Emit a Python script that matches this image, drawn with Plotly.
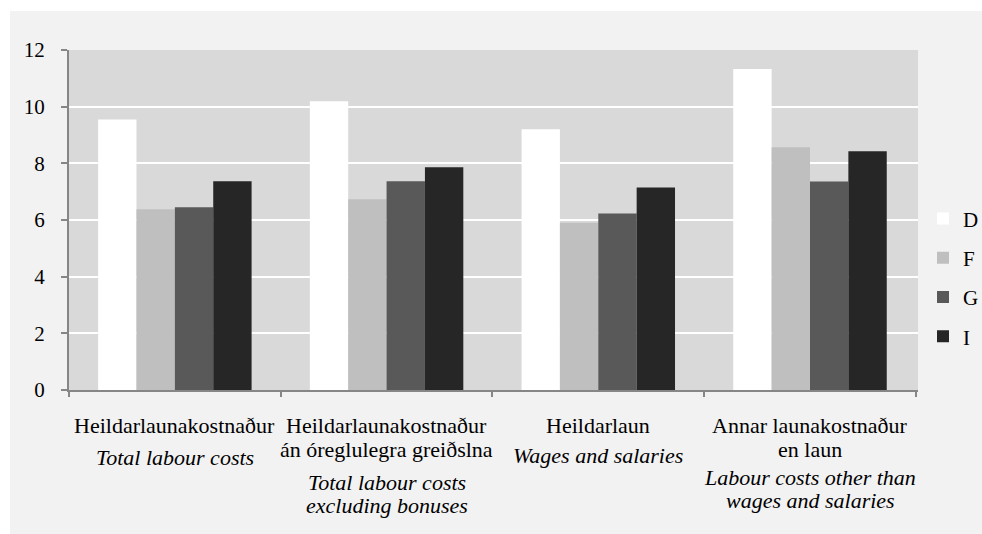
import plotly.graph_objects as go

# ---- data ----
categories = ["Heildarlaunakostnaður", "Heildarlaunakostnaður án óreglulegra greiðslna",
              "Heildarlaun", "Annar launakostnaður en laun"]
labels_is = [["Heildarlaunakostnaður"],
             ["Heildarlaunakostnaður", "án óreglulegra greiðslna"],
             ["Heildarlaun"],
             ["Annar launakostnaður", "en laun"]]
labels_en = [["Total labour costs"],
             ["Total labour costs", "excluding bonuses"],
             ["Wages and salaries"],
             ["Labour costs other than", "wages and salaries"]]
series_names = ["D", "F", "G", "I"]
D = [9.55, 10.19, 9.20, 11.33]
F = [6.38, 6.73, 5.90, 8.57]
G = [6.45, 7.37, 6.23, 7.36]
I = [7.37, 7.86, 7.15, 8.43]
values = [D, F, G, I]
y_ticks = [0, 2, 4, 6, 8, 10, 12]

# ---- styles ----
colors = ["#ffffff", "#bfbfbf", "#595959", "#262626"]
FONT = "Times New Roman, Liberation Serif, Tinos, serif"
FS = 21
FS_CAT = 22
W, H = 982, 534
ML, MR, MT, MB = 69, 64, 50, 144
PW, PH = W - ML - MR, H - MT - MB
Y0 = MT + PH  # pixel of y=0

fig = go.Figure()
for name, vals, col in zip(series_names, values, colors):
    fig.add_trace(go.Bar(x=categories, y=vals, name=name, marker_color=col,
                         marker_line_width=0, legendgroup=name))

annotations = []
is_first_baseline = 432
is_step = 24
en_first_baseline = [464, 489, 462, 484]
en_step = 23
for cat, is_lines, en_lines, enb in zip(categories, labels_is, labels_en, en_first_baseline):
    for k, line in enumerate(is_lines):
        base = is_first_baseline + k * is_step
        annotations.append(dict(x=cat, xref="x", y=0, yref="paper", yanchor="middle",
                                yshift=-(base - 7 - Y0), text=line, showarrow=False,
                                font=dict(family=FONT, size=FS_CAT, color="#000000")))
    for k, line in enumerate(en_lines):
        base = enb + k * en_step
        annotations.append(dict(x=cat, xref="x", y=0, yref="paper", yanchor="middle",
                                yshift=-(base - 7 - Y0), text="<i>" + line + "</i>", showarrow=False,
                                font=dict(family=FONT, size=FS_CAT, color="#000000")))

# white outer strips (chart frame starts at x=10, y=11)
shapes = [
    dict(type="rect", xref="paper", yref="paper", x0=-ML / PW - 0.01, x1=1 + MR / PW + 0.01,
         y0=1 + (MT - 11) / PH, y1=1 + MT / PH + 0.01, fillcolor="#ffffff", line_width=0, layer="above"),
    dict(type="rect", xref="paper", yref="paper", x0=-ML / PW - 0.01, x1=-(ML - 10) / PW,
         y0=-MB / PH - 0.01, y1=1 + MT / PH + 0.01, fillcolor="#ffffff", line_width=0, layer="above"),
]

fig.update_layout(
    width=W, height=H,
    margin=dict(l=ML, r=MR, t=MT, b=MB, pad=0, autoexpand=False),
    paper_bgcolor="#f2f2f2", plot_bgcolor="#d9d9d9",
    barmode="group", bargap=0.275, bargroupgap=0,
    font=dict(family=FONT, size=FS, color="#000000"),
    showlegend=True,
    legend=dict(x=(923 - ML) / PW, xanchor="left", y=0.33, yanchor="middle",
                traceorder="grouped", tracegroupgap=9, bgcolor="rgba(0,0,0,0)",
                font=dict(family=FONT, size=FS, color="#000000")),
    annotations=annotations,
    shapes=shapes,
)
fig.update_xaxes(showticklabels=False, showline=True, linecolor="#868686", linewidth=2,
                 ticks="outside", tickson="boundaries", ticklen=5, tickcolor="#868686",
                 tickwidth=2, showgrid=False, zeroline=False, automargin=False)
fig.update_yaxes(range=[0, 12], tickvals=y_ticks, showline=True, linecolor="#868686",
                 linewidth=2, ticks="outside", ticklen=6, tickcolor="#868686", tickwidth=2,
                 showgrid=True, gridcolor="#ffffff", gridwidth=2, zeroline=False,
                 automargin=False, ticklabelstandoff=12,
                 tickfont=dict(family=FONT, size=FS, color="#000000"))

fig.write_html("out.html", config={"displayModeBar": False},
               post_script="document.body.style.margin='0';")
